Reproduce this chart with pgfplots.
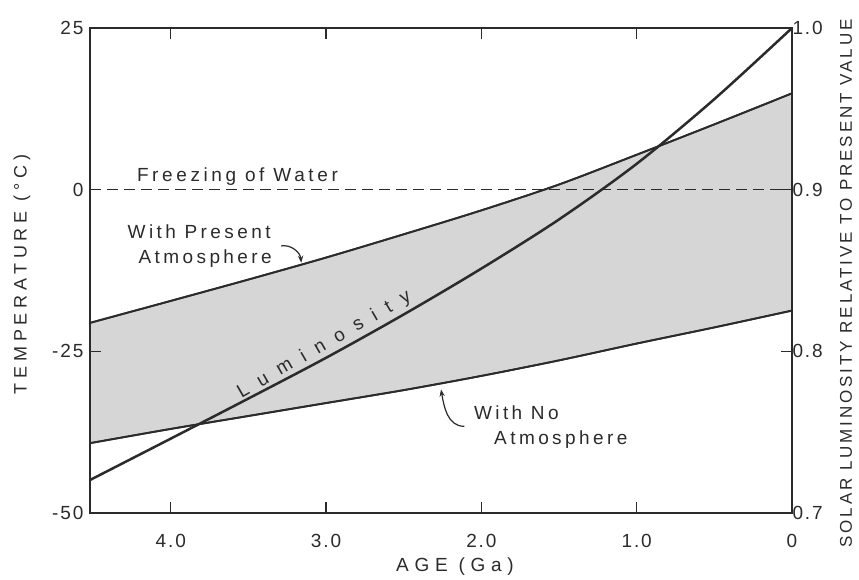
\documentclass[border=0pt]{standalone}
\usepackage{pgfplots}
\pgfplotsset{compat=1.18}
\usepgfplotslibrary{fillbetween}
\usetikzlibrary{arrows.meta}
\usepackage{fontspec}
\setmainfont{Liberation Sans}
\definecolor{ink}{HTML}{2B2B2B}
\definecolor{bandgray}{HTML}{D6D6D6}
\newcommand{\lab}[1]{\fontsize{19}{19}\selectfont\addfontfeature{LetterSpace=#1}}
\begin{document}
\begin{tikzpicture}
\begin{axis}[
  name=main,
  scale only axis, width=702pt, height=485pt,
  x dir=reverse, xmin=0, xmax=4.52, ymin=-50, ymax=25,
  axis line style={ink, line width=2.6pt},
  tick style={ink, line width=1.4pt},
  major tick length=11pt, tick align=inside,
  xtick={0,1,2,3,4}, xticklabels={0,1.0,2.0,3.0,4.0},
  xtick pos=both, ytick pos=left,
  ytick={-50,-25,0,25}, yticklabels={-50,-25,0,25},
  ticklabel style={font=\lab{10}, text=ink},
  xticklabel style={yshift=-18pt},
  yticklabel style={xshift=-3pt},
  axis on top,
  clip=false,
]
\addplot[name path=upper, ink, line width=1.8pt, smooth] coordinates {
(4.52,-20.6) (4.0,-17.2) (3.5,-13.9) (3.0,-10.5) (2.5,-6.9) (2.0,-3.2) (1.5,0.8) (1.0,5.4) (0.5,10.1) (0,14.9)};
\addplot[name path=lower, ink, line width=1.8pt, smooth] coordinates {
(4.52,-39.2) (4.0,-37.0) (3.5,-35.0) (3.0,-33.0) (2.5,-31.0) (2.0,-28.8) (1.5,-26.4) (1.0,-23.8) (0.5,-21.3) (0,-18.7)};
\addplot[fill=bandgray, draw=none] fill between[of=upper and lower];
\addplot[ink, line width=1.8pt, smooth] coordinates {
(4.52,-20.6) (4.0,-17.2) (3.5,-13.9) (3.0,-10.5) (2.5,-6.9) (2.0,-3.2) (1.5,0.8) (1.0,5.4) (0.5,10.1) (0,14.9)};
\addplot[ink, line width=1.8pt, smooth] coordinates {
(4.52,-39.2) (4.0,-37.0) (3.5,-35.0) (3.0,-33.0) (2.5,-31.0) (2.0,-28.8) (1.5,-26.4) (1.0,-23.8) (0.5,-21.3) (0,-18.7)};
% luminosity expressed on the temperature scale (T = 250*(L-0.9))
\addplot[ink, line width=2.5pt, smooth] coordinates {
(4.52,-44.9) (4.0,-38.5) (3.5,-32.3) (3.0,-26.0) (2.5,-19.3) (2.0,-12.2) (1.5,-4.6) (1.0,4.0) (0.5,14.0) (0,25)};
\addplot[ink, line width=1.2pt, dash pattern=on 11pt off 6pt] coordinates {(4.52,0) (0,0)};

% inner tick marks
\pgfplotsinvokeforeach{1,2,3,4}{
  \draw[ink, line width=1.4pt] (axis cs:#1,-50) -- (axis cs:#1,-48.3);
  \draw[ink, line width=1.4pt] (axis cs:#1,25) -- (axis cs:#1,23.3);
}
\draw[ink, line width=1.4pt] (axis cs:4.52,-25) -- (axis cs:4.45,-25);
\draw[ink, line width=1.4pt] (axis cs:0,-25) -- (axis cs:0.07,-25);

\node[font=\lab{19}, text=ink, anchor=base west] at (axis cs:4.24,1.3) {Freezing of Water};
\node[font=\lab{18}, text=ink, anchor=west] at (axis cs:4.30,-6.5) {With Present};
\node[font=\lab{18}, text=ink, anchor=west] at (axis cs:4.23,-10.7) {Atmosphere};
\draw[ink, line width=1.2pt, -{Stealth[length=7pt]}] (axis cs:3.29,-8.7) to[out=10,in=95] (axis cs:3.16,-11.3);
\node[font=\lab{62}, text=ink, rotate=30] at (axis cs:3.01,-24.0) {Luminosity};
\node[font=\lab{18}, text=ink, anchor=west] at (axis cs:2.07,-34.5) {With No};
\node[font=\lab{18}, text=ink, anchor=west] at (axis cs:1.94,-38.7) {Atmosphere};
\draw[ink, line width=1.2pt, -{Stealth[length=7pt]}] (axis cs:2.11,-36.6) to[out=180,in=-80] (axis cs:2.26,-30.9);

\node[font=\fontsize{19}{19}\selectfont\addfontfeature{LetterSpace=30}, text=ink] at ([xshift=14pt,yshift=-54pt]rel axis cs:0.5,0) {AGE (Ga)};
\node[font=\fontsize{18}{18}\selectfont\addfontfeature{LetterSpace=27}, text=ink, rotate=90] at ([xshift=-68pt,yshift=-4pt]rel axis cs:0,0.5) {TEMPERATURE (°C)};
\node[font=\fontsize{17}{17}\selectfont\addfontfeature{LetterSpace=17}, text=ink, rotate=90] at ([xshift=54pt,yshift=-13pt]rel axis cs:1,0.5) {SOLAR LUMINOSITY RELATIVE TO PRESENT VALUE};
\end{axis}
\begin{axis}[
  scale only axis, width=702pt, height=485pt,
  xmin=0, xmax=4.52, ymin=0.7, ymax=1.0,
  axis x line=none, axis y line*=right,
  axis line style={ink, line width=2.6pt},
  tick style={ink, line width=1.4pt},
  major tick length=11pt, tick align=inside,
  ytick={0.7,0.8,0.9,1.0}, yticklabels={0.7,0.8,0.9,1.0},
  ticklabel style={font=\lab{10}, text=ink},
  yticklabel style={xshift=-3pt},
]
\addplot[draw=none] coordinates {(0,0.7) (4.52,1.0)};
\end{axis}
\path[use as bounding box] ([shift={(-90pt,-66pt)}]main.south west) rectangle ([shift={(67pt,28pt)}]main.north east);
\end{tikzpicture}
\end{document}
